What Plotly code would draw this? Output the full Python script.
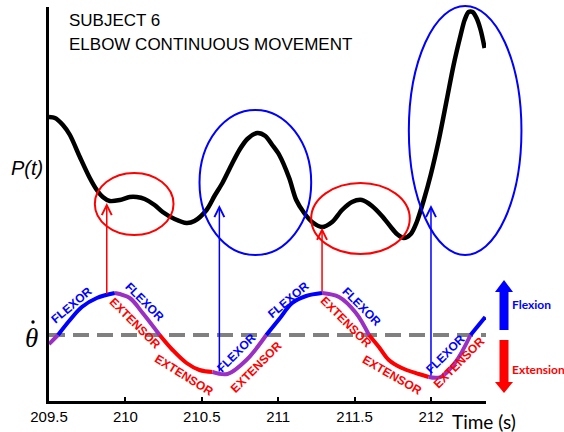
import numpy as np
import plotly.graph_objects as go

# ---- P(t): myoelectric output, arbitrary units ----
p_time = [209.500, 209.539, 209.591, 209.637, 209.702, 209.767, 209.813, 209.852, 209.898,
          209.963, 210.028, 210.074, 210.126, 210.191, 210.244, 210.322, 210.400, 210.452,
          210.531, 210.583, 210.635, 210.694, 210.746, 210.798, 210.863, 210.916, 210.961,
          211.007, 211.072, 211.118, 211.170, 211.222, 211.287, 211.353, 211.418, 211.483,
          211.548, 211.614, 211.679, 211.737, 211.777, 211.822, 211.868, 211.907, 211.953,
          211.998, 212.051, 212.103, 212.148, 212.194, 212.220, 212.246, 212.272, 212.298,
          212.325, 212.351]
p_value = [7.100, 7.075, 6.900, 6.650, 6.100, 5.575, 5.275, 5.100, 5.000,
           5.025, 5.100, 5.100, 5.050, 4.900, 4.725, 4.550, 4.450, 4.500,
           4.775, 5.125, 5.450, 5.900, 6.275, 6.550, 6.700, 6.625, 6.400,
           6.150, 5.575, 5.025, 4.700, 4.475, 4.350, 4.475, 4.775, 4.975,
           5.025, 4.875, 4.625, 4.350, 4.175, 4.075, 4.175, 4.475, 5.025,
           5.650, 6.525, 7.525, 8.400, 9.150, 9.525, 9.725, 9.725, 9.575,
           9.275, 8.825]

# ---- joint angular velocity (theta dot), arbitrary units ----
theta_time = [209.500, 209.559, 209.637, 209.715, 209.813, 209.931, 210.028, 210.113,
              210.224, 210.309, 210.400, 210.485, 210.570, 210.668, 210.792, 210.922,
              211.007, 211.092, 211.183, 211.287, 211.398, 211.509, 211.594, 211.659,
              211.724, 211.809, 211.920, 211.985, 212.064, 212.161, 212.259, 212.355]
theta_value = [-0.225, 0.0, 0.375, 0.70, 0.925, 1.05, 0.925, 0.55,
               0.0, -0.375, -0.70, -0.875, -0.925, -0.975, -0.625, 0.0,
               0.40, 0.80, 0.975, 1.05, 0.95, 0.55, 0.0, -0.30,
               -0.625, -0.825, -0.975, -1.05, -1.05, -0.675, 0.0, 0.45]

# muscle activation phases along the theta-dot trace
phase_start = [209.500, 209.559, 209.931, 210.224, 210.570, 210.922, 211.287, 211.594, 211.985, 212.259]
phase_name = ["co", "flex", "co", "ext", "co", "flex", "co", "ext", "co", "flex"]

# phase labels written along the trace
label_text = ["FLEXOR", "FLEXOR", "EXTENSOR", "EXTENSOR", "FLEXOR", "EXTENSOR",
              "FLEXOR", "FLEXOR", "EXTENSOR", "EXTENSOR", "FLEXOR", "EXTENSOR"]
label_time = [209.650, 210.126, 210.061, 210.381, 210.726, 210.857,
              211.066, 211.548, 211.444, 211.744, 212.096, 212.181]
label_theta = [0.75, 0.825, 0.30, -1.0, -0.45, -0.80,
               0.875, 0.70, 0.325, -1.0, -0.475, -0.70]
label_angle = [-40, 45, 45, 32, -45, -45, -40, 45, 45, 30, -45, -45]

# highlighted P(t) regions (time span, amplitude span, phase)
hl_t0 = [209.800, 210.485, 211.216, 211.855]
hl_t1 = [210.315, 211.216, 211.861, 212.592]
hl_p0 = [4.15, 3.65, 3.675, 3.65]
hl_p1 = [5.70, 7.275, 5.45, 9.875]
hl_phase = ["ext", "flex", "ext", "flex"]

# onset markers: time, P(t) level reached by the arrow
onset_time = [209.878, 210.615, 211.287, 212.000]
onset_p = [4.95, 4.90, 4.33, 4.90]
onset_phase = ["ext", "flex", "ext", "flex"]

tick_vals = [209.5, 210, 210.5, 211, 211.5, 212]
tick_text = ["209.5", "210", "210.5", "211", "211.5", "212"]

COLORS = {"flex": "#0000ff", "ext": "#ff0000", "co": "#9b2fc4"}

x_range = [209.5, 212.36]
y_range = [0.0, 9.85]
y2_range = [-1.65, 8.2]


def theta_to_p(v):
    return y_range[0] + (v - y2_range[0]) * (y_range[1] - y_range[0]) / (y2_range[1] - y2_range[0])


def xp(t):
    return (t - x_range[0]) / (x_range[1] - x_range[0])


def yp(p):
    return (p - y_range[0]) / (y_range[1] - y_range[0])


fig = go.Figure()

# P(t)
fig.add_trace(go.Scatter(x=p_time, y=p_value, mode="lines",
                         line=dict(color="black", width=4.5, shape="spline", smoothing=0.8),
                         hoverinfo="skip", showlegend=False))

# zero velocity reference
fig.add_trace(go.Scatter(x=[x_range[0], x_range[1]], y=[0, 0], yaxis="y2", mode="lines",
                         line=dict(color="#808080", width=4, dash="16px,8px"),
                         hoverinfo="skip", showlegend=False))

# theta dot, coloured by phase
tt = np.array(theta_time)
tv = np.array(theta_value)
bounds = phase_start + [theta_time[-1]]
for i, name in enumerate(phase_name):
    m = (tt >= bounds[i] - 1e-9) & (tt <= bounds[i + 1] + 1e-9)
    fig.add_trace(go.Scatter(x=tt[m], y=tv[m], yaxis="y2", mode="lines",
                             line=dict(color=COLORS[name], width=4, shape="spline"),
                             hoverinfo="skip", showlegend=False))

annotations = []
shapes = []

# phase labels
for txt, t, v, a in zip(label_text, label_time, label_theta, label_angle):
    col = COLORS["flex"] if txt == "FLEXOR" else COLORS["ext"]
    annotations.append(dict(x=t, y=v, xref="x", yref="y2", text=txt, textangle=a,
                            showarrow=False, xanchor="center", yanchor="middle",
                            font=dict(family="Liberation Sans, Arial", size=12,
                                      color=col, weight="bold")))

# onset arrows from the theta-dot trace up to P(t)
for t, p, ph in zip(onset_time, onset_p, onset_phase):
    tail = theta_to_p(float(np.interp(t, theta_time, theta_value)))
    annotations.append(dict(x=t, y=p, xref="x", yref="y", ax=t, ay=tail,
                            axref="x", ayref="y", text="", showarrow=True,
                            arrowhead=5, arrowsize=1.3, arrowwidth=1.5,
                            arrowcolor=COLORS[ph], standoff=0, startstandoff=0))

# highlighted regions
for t0, t1, p0, p1, ph in zip(hl_t0, hl_t1, hl_p0, hl_p1, hl_phase):
    shapes.append(dict(type="circle", xref="paper", yref="paper",
                       x0=xp(t0), x1=xp(t1), y0=yp(p0), y1=yp(p1),
                       line=dict(color=COLORS[ph], width=2)))

# flexion / extension direction arrows
def arrow_path(xc, y_base, y_neck, y_tip, half_shaft, half_head):
    return (f"M {xc - half_shaft} {y_base} L {xc - half_shaft} {y_neck} "
            f"L {xc - half_head} {y_neck} L {xc} {y_tip} L {xc + half_head} {y_neck} "
            f"L {xc + half_shaft} {y_neck} L {xc + half_shaft} {y_base} Z")

shapes.append(dict(type="path", xref="paper", yref="paper",
                   path=arrow_path(1.0412, 0.180, 0.2766, 0.307, 0.0103, 0.0206),
                   fillcolor=COLORS["flex"], line=dict(width=0)))
shapes.append(dict(type="path", xref="paper", yref="paper",
                   path=arrow_path(1.0412, 0.1548, 0.0482, 0.0203, 0.0103, 0.0206),
                   fillcolor=COLORS["ext"], line=dict(width=0)))

# overdot of the theta symbol
shapes.append(dict(type="circle", xref="paper", yref="paper",
                   x0=-0.0405, x1=-0.0327, y0=0.1963, y1=0.2047,
                   fillcolor="black", line=dict(width=0)))

title_font = dict(family="Liberation Sans, Arial", size=17, color="black")
annotations += [
    dict(x=1.055, y=0.246, xref="paper", yref="paper", text="Flexion", showarrow=False,
         xanchor="left", yanchor="middle",
         font=dict(family="Lato", size=12, color=COLORS["flex"], weight="bold")),
    dict(x=1.055, y=0.079, xref="paper", yref="paper", text="Extension", showarrow=False,
         xanchor="left", yanchor="middle",
         font=dict(family="Lato", size=12, color=COLORS["ext"], weight="bold")),
    dict(x=0.996, y=-0.051, xref="paper", yref="paper", text="Time (s)", showarrow=False,
         xanchor="center", yanchor="middle",
         font=dict(family="Lato", size=19, color="black")),
    dict(x=0.041, y=0.967, xref="paper", yref="paper", text="SUBJECT 6", showarrow=False,
         xanchor="left", yanchor="middle", font=title_font),
    dict(x=0.041, y=0.906, xref="paper", yref="paper", text="ELBOW CONTINUOUS MOVEMENT",
         showarrow=False, xanchor="left", yanchor="middle", font=title_font),
    dict(x=-0.050, y=0.591, xref="paper", yref="paper", text="<i>P(t)</i>", showarrow=False,
         xanchor="center", yanchor="middle",
         font=dict(family="Liberation Sans, Arial", size=20, color="black")),
    dict(x=-0.041, y=0.160, xref="paper", yref="paper", text="<i>θ</i>", showarrow=False,
         xanchor="center", yanchor="middle",
         font=dict(family="Liberation Serif, Times New Roman", size=27, color="black")),
]

fig.update_layout(
    width=564, height=432,
    margin=dict(l=49, r=78, t=7, b=31, pad=0),
    paper_bgcolor="white", plot_bgcolor="white",
    showlegend=False,
    xaxis=dict(range=x_range, showline=True, linecolor="black", linewidth=3,
               ticks="inside", ticklen=4, tickwidth=2, tickcolor="black",
               tickvals=tick_vals, ticktext=tick_text, showgrid=False, zeroline=False,
               tickfont=dict(family="Liberation Sans, Arial", size=15, color="black")),
    yaxis=dict(range=y_range, showline=True, linecolor="black", linewidth=3,
               showticklabels=False, ticks="", showgrid=False, zeroline=False),
    yaxis2=dict(range=y2_range, overlaying="y", visible=False),
    annotations=annotations,
    shapes=shapes,
)

fig.write_html("out.html")
